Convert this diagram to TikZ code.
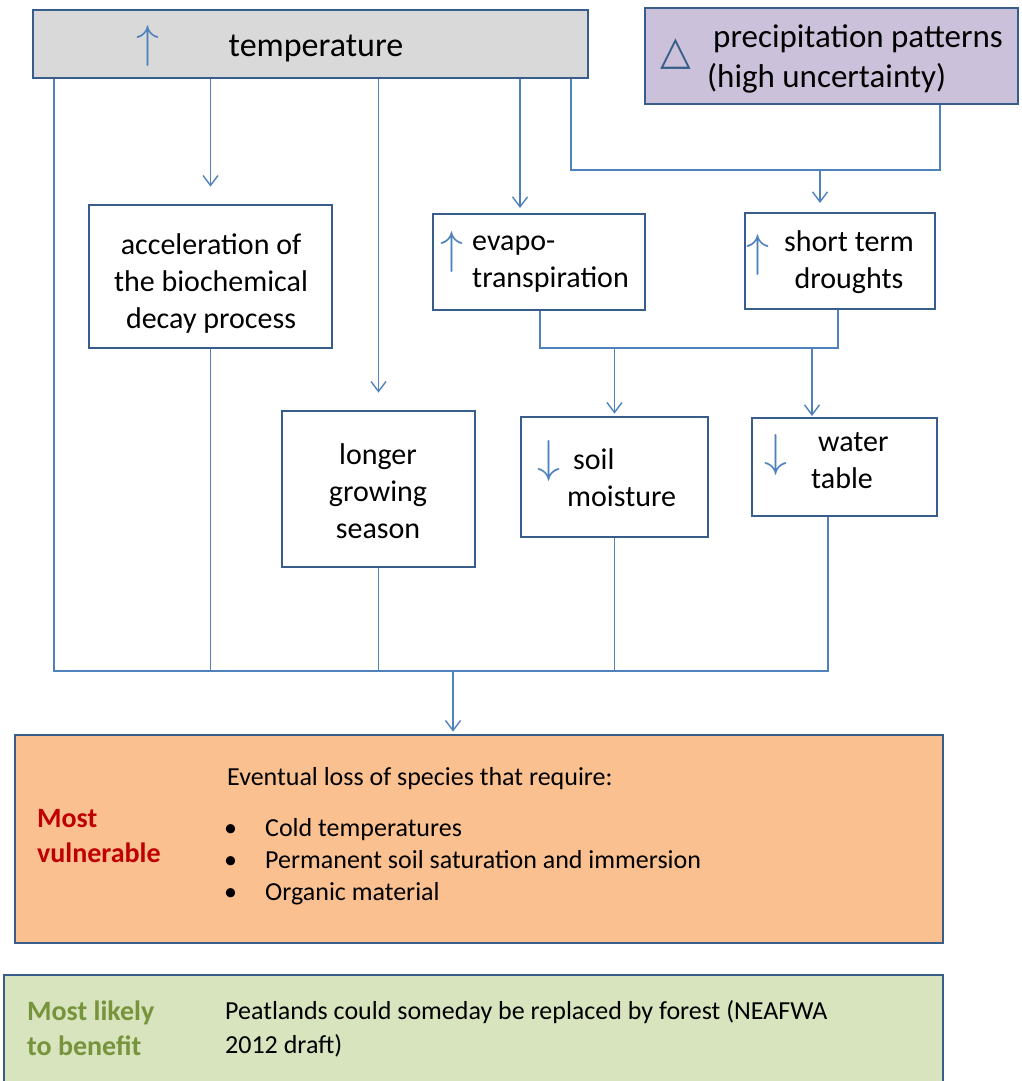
\documentclass[tikz,border=0pt]{standalone}
\usepackage{fontspec}
\setmainfont{Carlito}
\newfontfamily\symfont{DejaVu Sans}
\usetikzlibrary{arrows.meta}

\definecolor{boxblue}{HTML}{385D8A}
\definecolor{linkblue}{HTML}{4F81BD}
\definecolor{tempgray}{HTML}{D9D9D9}
\definecolor{rainlilac}{HTML}{CCC1DA}
\definecolor{vulnorange}{HTML}{FAC090}
\definecolor{benefitgreen}{HTML}{D7E4BD}
\definecolor{vulnred}{HTML}{C00000}
\definecolor{benefittext}{HTML}{77933C}

\tikzset{
  box/.style={draw=boxblue, line width=2.7pt, fill=white, inner sep=0pt},
  txt/.style={inner sep=0pt, align=left, anchor=west, font=\fontsize{30}{37}\selectfont},
  updown/.style={inner sep=0pt, text=linkblue, scale=4.6},
  link/.style={draw=linkblue, line width=1.4pt},
  arrow/.style={link, -{Straight Barb[length=10pt, width=15pt]}},
}

\begin{document}
\begin{tikzpicture}[x=1pt, y=-1pt]
    \useasboundingbox (0,0) rectangle (1021,1081);
    \clip (0,0) rectangle (1021,1081);

    % Drivers
    \node[box, fill=tempgray, minimum width=555pt, minimum height=68pt] (temp) at (310.5,44) {};
    \node[txt, anchor=center, font=\fontsize{34}{40}\selectfont] (tempText) at (316,48) {temperature};
    \node[updown] (tempUp) at (148,46) {$\uparrow$};

    \node[box, fill=rainlilac, minimum width=373pt, minimum height=96pt] (rain) at (831.5,56) {};
    \node[txt, font=\fontsize{33}{40}\selectfont] (rainText) at (707,59)
      {\hspace*{6pt}precipitation patterns\\(high uncertainty)};
    \node[inner sep=0pt, text=boxblue, font=\symfont\fontsize{40}{40}\selectfont] (rainDelta) at (676,54) {△};

    % First effects
    \node[box, minimum width=243pt, minimum height=143pt] (accel) at (210.5,276.5) {};
    \node[txt, align=center, anchor=center] (accelText) at (211,283)
      {acceleration of\\the biochemical\\decay process};

    \node[box, minimum width=212pt, minimum height=96pt] (evapo) at (539,262) {};
    \node[updown] (evapoUp) at (452,252) {$\uparrow$};
    \node[txt] (evapoText) at (472,264) {evapo-\\transpiration};

    \node[box, minimum width=190pt, minimum height=96pt] (drought) at (840,261) {};
    \node[updown] (droughtUp) at (758,255) {$\uparrow$};
    \node[txt, align=center, anchor=center] (droughtText) at (849,262) {short term\\droughts};

    % Second effects
    \node[box, minimum width=193pt, minimum height=156pt] (longer) at (378.5,489) {};
    \node[txt, align=center, anchor=center] (longerText) at (378,491) {longer\\growing\\season};

    \node[box, minimum width=187pt, minimum height=120pt] (soil) at (614.5,477) {};
    \node[updown] (soilDown) at (549,461) {$\downarrow$};
    \node[txt] (soilText) at (567,478) {\hspace*{6pt}soil\\moisture};

    \node[box, minimum width=185pt, minimum height=98pt] (water) at (844.5,467) {};
    \node[updown] (waterDown) at (776,455) {$\downarrow$};
    \node[txt] (waterText) at (811,461) {\hspace*{7pt}water\\table};

    % Outcomes
    \node[box, fill=vulnorange, minimum width=928pt, minimum height=208pt] (vuln) at (479,839) {};
    \node[txt, text=vulnred, font=\bfseries\fontsize{28}{35}\selectfont] (vulnLabel) at (37,836)
      {Most\\vulnerable};
    \node[txt, font=\fontsize{26}{32}\selectfont] (lossText) at (227,779)
      {Eventual loss of species that require:};
    \node[txt, font=\fontsize{26}{32}\selectfont] (lossList) at (224,862)
      {\makebox[41pt][l]{\textbullet}Cold temperatures\\
       \makebox[41pt][l]{\textbullet}Permanent soil saturation and immersion\\
       \makebox[41pt][l]{\textbullet}Organic material};

    \node[box, fill=benefitgreen, minimum width=939pt, minimum height=115pt] (benefit) at (473.5,1032.5) {};
    \node[txt, text=benefittext, font=\bfseries\fontsize{28}{35}\selectfont] (benefitLabel) at (27,1028)
      {Most likely\\to benefit};
    \node[txt, font=\fontsize{26}{34}\selectfont] (benefitText) at (225,1029)
      {Peatlands could someday be replaced by forest (NEAFWA\\2012 draft)};

    % Junction points
    \coordinate (busL) at (54,671);
    \coordinate (busR) at (828,671);
    \coordinate (busM) at (453,671);
    \coordinate (evapoIn) at (520,214);
    \coordinate (rainJoin) at (571,170);
    \coordinate (rainCorner) at (940,170);
    \coordinate (droughtIn) at (820,213);
    \coordinate (dryJoin) at (540,348);
    \coordinate (dryCorner) at (838,348);
    \coordinate (waterIn) at (812,418);

    % From temperature and precipitation
    \draw[arrow, shorten >=17pt] (temp.south -| accel) -- (accel.north);
    \draw[arrow, shorten >=17pt] (temp.south -| longer) -- (longer.north);
    \draw[arrow, shorten >=6pt] (temp.south -| evapoIn) -- (evapoIn);
    \draw[link] (temp.south -| rainJoin) -- (rainJoin) -- (rainCorner) -- (rain.south -| rainCorner);
    \draw[arrow, shorten >=10pt] (droughtIn |- rainJoin) -- (droughtIn);

    % Drying
    \draw[link] (evapo.south -| dryJoin) -- (dryJoin) -- (dryCorner) -- (drought.south -| dryCorner);
    \draw[arrow, shorten >=2pt] (soil.north |- dryJoin) -- (soil.north);
    \draw[arrow, shorten >=2pt] (waterIn |- dryJoin) -- (waterIn);

    % Collect into outcome
    \draw[link] (temp.south -| busL) -- (busL) -- (busR) -- (water.south -| busR);
    \draw[link] (accel.south) -- (accel.south |- busL);
    \draw[link] (longer.south) -- (longer.south |- busL);
    \draw[link] (soil.south) -- (soil.south |- busL);
    \draw[arrow, shorten >=2pt] (busM) -- (vuln.north -| busM);

\end{tikzpicture}
\end{document}
